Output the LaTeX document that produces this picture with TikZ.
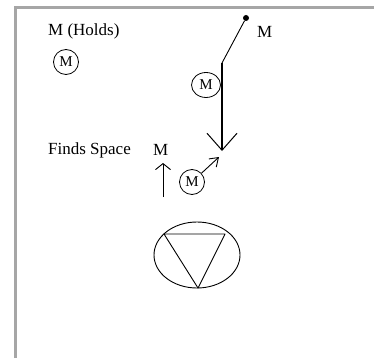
\documentclass[tikz,border=0pt]{standalone}
\usepackage{fontspec}
\setmainfont{Liberation Serif}
\usetikzlibrary{arrows.meta,shapes.geometric}
\begin{document}
\begin{tikzpicture}[x=1pt,y=-1pt,
  lbl/.style={inner sep=0pt,font=\fontsize{17}{17}\selectfont},
  mcirc/.style={ellipse,draw,line width=0.8pt,inner sep=0pt,minimum width=25pt,minimum height=25pt,font=\fontsize{15}{15}\selectfont},
  ln/.style={line width=0.9pt}]
\useasboundingbox (0,0) rectangle (374,358);
\draw[gray!70,line width=3pt] (15,358) -- (15,8) -- (374,8);
% top-left group
\node[lbl,anchor=west] (holds) at (48,31) {M (Holds)};
\node[mcirc] (c1) at (66,62) {M};
% dot and path
\node[circle,fill,inner sep=0pt,minimum size=6pt] (dot) at (246,18) {};
\node[lbl,anchor=west] (mr) at (257,32) {M};
\coordinate (bend) at (222,63);
\coordinate (tip) at (222,151);
\node[mcirc,minimum width=29pt] (c2) at (206,85) {M};
\draw[ln] (dot) -- (bend);
\draw[line width=1.6pt,-{Straight Barb[length=17pt,width=30pt,line width=1pt]}] (bend) -- (tip);
% finds space
\node[lbl,anchor=west] (finds) at (48,150) {Finds Space};
\node[lbl,anchor=west] (m3) at (153,150) {M};
\coordinate (ub) at (163,197);
\draw[ln,-{Straight Barb[length=6pt,width=15pt]}] (ub) -- (163,163);
\node[mcirc] (c3) at (192,182) {M};
\coordinate (dt) at (219,157);
\draw[ln,-{Straight Barb[length=8pt,width=11pt]}] (c3) -- (dt);
% ellipse with triangle
\node[ellipse,draw,line width=0.9pt,minimum width=86pt,minimum height=66pt,inner sep=0pt] (el) at (197,255) {};
\coordinate (ta) at (164,234);
\coordinate (tb) at (225,234);
\coordinate (tc) at (198,288);
\draw[line width=0.9pt,line join=round] (ta) -- (tb) -- (tc) -- cycle;
\end{tikzpicture}
\end{document}
